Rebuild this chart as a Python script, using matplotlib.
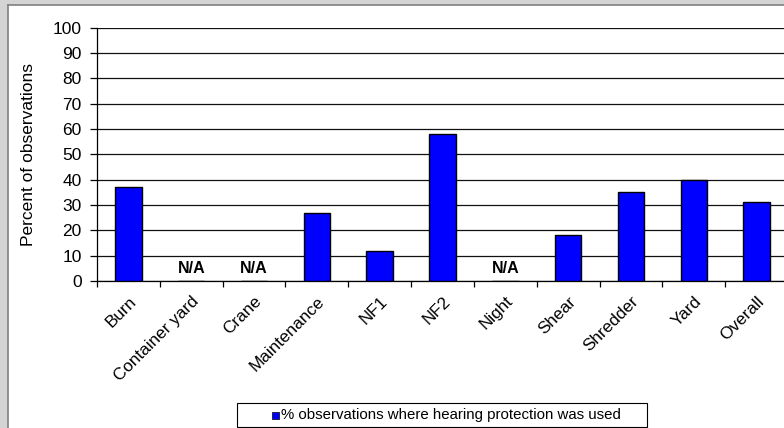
import matplotlib
matplotlib.use("Agg")
import matplotlib.pyplot as plt
import matplotlib.transforms as mtransforms
from matplotlib.patches import Rectangle
import numpy as np

categories = ["Burn", "Container yard", "Crane", "Maintenance", "NF1", "NF2",
              "Night", "Shear", "Shredder", "Yard", "Overall"]
values = [37, None, None, 27, 12, 58, None, 18, 35, 40, 31]
yticks = [0, 10, 20, 30, 40, 50, 60, 70, 80, 90, 100]
series_label = "% observations where hearing protection was used"

plt.rcParams['font.family'] = ['Liberation Sans', 'DejaVu Sans']

W, H = 784, 428
fig = plt.figure(figsize=(W/100, H/100), dpi=100)
fig.patch.set_facecolor('#d4d4d4')

def fx(px):
    return px / W

def fy(py):
    return (H - py) / H

# white panel with dark border at top/left
fig.add_artist(Rectangle((fx(8), 0), 1, fy(5), transform=fig.transFigure,
                         facecolor='white', edgecolor='none', zorder=-10))
fig.add_artist(plt.Line2D([fx(7.5), fx(7.5)], [0, fy(4.5)], transform=fig.transFigure,
                          color='#808080', lw=1.2, zorder=-9))
fig.add_artist(plt.Line2D([fx(7.5), 1], [fy(4.5), fy(4.5)], transform=fig.transFigure,
                          color='#808080', lw=1.2, zorder=-9))

left, right, top, bottom = 97, 788, 27.5, 281
ax = fig.add_axes([fx(left), fy(bottom), (right-left)/W, (bottom-top)/H])
ax.set_zorder(1)
ax.set_facecolor('none')

x = np.arange(len(categories))
vals = [v if v is not None else 0 for v in values]
ax.bar(x, vals, width=0.42, color='#0000ff', edgecolor='black', linewidth=1.0, zorder=3)
for xi, v in zip(x, values):
    if v is None:
        ax.text(xi, 5, "N/A", ha='center', va='center', fontsize=11.5, fontweight='bold', zorder=4)

ax.set_xlim(-0.5, len(categories) - 0.5)
ax.set_ylim(0, 100)
ax.set_yticks(yticks)
ax.set_yticklabels([str(t) for t in yticks], fontsize=12.5)
ax.yaxis.grid(True, color='#111111', linewidth=0.9, zorder=1)
ax.set_axisbelow(True)

ax.set_xticks(np.arange(-0.5, len(categories), 1.0))
ax.set_xticklabels([])
ax.set_xticks(x, minor=True)
ax.set_xticklabels(categories, minor=True, rotation=45, ha='right', va='top',
                   rotation_mode='anchor', fontsize=12.3)
shift = mtransforms.ScaledTranslation(-3/100, 0, fig.dpi_scale_trans)
for lab in ax.xaxis.get_minorticklabels():
    lab.set_transform(lab.get_transform() + shift)
ax.tick_params(axis='x', which='major', direction='out', length=4.3, width=0.9)
ax.tick_params(axis='x', which='minor', length=0, pad=9)
ax.tick_params(axis='y', direction='out', length=5, width=0.9, pad=6)

for s in ['top', 'right']:
    ax.spines[s].set_visible(False)
ax.spines['left'].set_linewidth(0.9)
ax.spines['bottom'].set_linewidth(0.9)

fig.text(fx(29), fy(154), "Percent of observations", rotation=90,
         ha='center', va='center', fontsize=12.5)

# legend box (Excel style)
fig.add_artist(Rectangle((fx(237), fy(427)), (647-237)/W, (427-403)/H,
                         transform=fig.transFigure, facecolor='white',
                         edgecolor='black', lw=0.8, zorder=2))
fig.add_artist(Rectangle((fx(272), fy(418.5)), 6.5/W, 7/H,
                         transform=fig.transFigure, facecolor='#0000ff',
                         edgecolor='black', lw=0.5, zorder=3))
fig.text(fx(281), fy(415), series_label, ha='left', va='center',
         fontsize=10.8, zorder=3)

fig.savefig("out.png", dpi=100, facecolor=fig.get_facecolor())
